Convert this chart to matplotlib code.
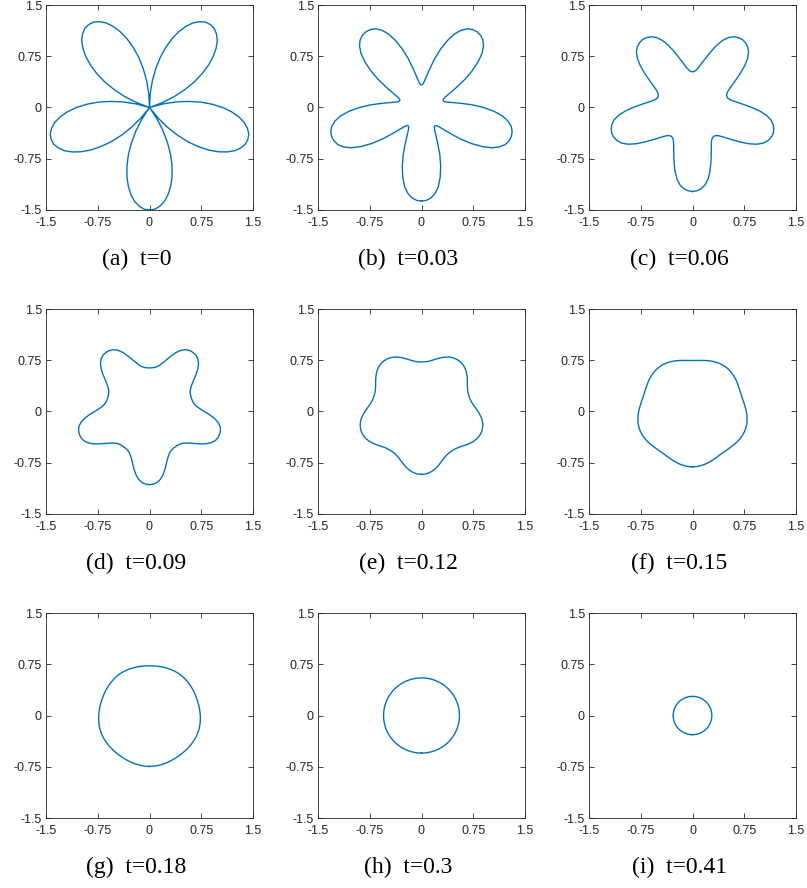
import numpy as np
import matplotlib
matplotlib.use("Agg")
import matplotlib.pyplot as plt

matplotlib.rcParams.update({"font.family": "Liberation Sans", "font.size": 9})

# half-petal radius profiles, read off the picture: angle measured from a petal axis
# (petal axes at 270 + 72k degrees), from the petal tip (0) to the notch (36)
phi = [0, 3, 6, 9, 12, 15, 18, 21, 24, 27, 30, 33, 36]
r_a = [1.50, 1.49, 1.45, 1.39, 1.30, 1.19, 1.06, 0.91, 0.75, 0.57, 0.39, 0.20, 0.0]
r_b = [1.37, 1.36, 1.33, 1.27, 1.18, 1.05, 0.90, 0.74, 0.58, 0.46, 0.38, 0.34, 0.33]
r_c = [1.23, 1.22, 1.195, 1.15, 1.075, 0.975, 0.86, 0.755, 0.67, 0.60, 0.555, 0.53, 0.522]
r_d = [1.07, 1.065, 1.045, 1.005, 0.945, 0.87, 0.795, 0.735, 0.69, 0.662, 0.647, 0.64, 0.638]
r_e = [0.92, 0.917, 0.908, 0.893, 0.872, 0.847, 0.82, 0.793, 0.768, 0.748, 0.734, 0.727, 0.725]
r_f = [0.81, 0.809, 0.806, 0.801, 0.795, 0.788, 0.78, 0.772, 0.764, 0.757, 0.752, 0.748, 0.747]
r_g = [0.745, 0.745, 0.744, 0.742, 0.740, 0.738, 0.736, 0.734, 0.732, 0.730, 0.729, 0.728, 0.728]
r_h = [0.55] * 13
r_i = [0.28] * 13

labels = ["(a)  t=0", "(b)  t=0.03", "(c)  t=0.06",
          "(d)  t=0.09", "(e)  t=0.12", "(f)  t=0.15",
          "(g)  t=0.18", "(h)  t=0.3", "(i)  t=0.41"]
profiles = [r_a, r_b, r_c, r_d, r_e, r_f, r_g, r_h, r_i]

ticks = [-1.5, -0.75, 0, 0.75, 1.5]
ticklabels = ["-1.5", "-0.75", "0", "0.75", "1.5"]


def closed_curve(prof):
    # walk round the full circle in 3 degree steps, starting at the bottom petal
    step = phi[1] - phi[0]
    xs, ys = [], []
    for k in range(0, 361, step):
        m = k % 72
        idx = min(m, 72 - m) // step
        th = np.deg2rad(270 + k)
        xs.append(prof[idx] * np.cos(th))
        ys.append(prof[idx] * np.sin(th))
    return xs, ys


W, H = 807, 888
fig = plt.figure(figsize=(W / 100, H / 100), dpi=100)
lefts = [46, 318, 589]
bottoms = [210, 514, 818]
aw, ah = 207, 205

for i, (prof, lab) in enumerate(zip(profiles, labels)):
    row, col = divmod(i, 3)
    ax = fig.add_axes([lefts[col] / W, 1 - bottoms[row] / H, aw / W, ah / H])
    xs, ys = closed_curve(prof)
    ax.plot(xs, ys, color="#0072BD", linewidth=1.0)
    ax.set_xlim(-1.5, 1.5)
    ax.set_ylim(-1.5, 1.5)
    ax.set_xticks(ticks)
    ax.set_xticklabels(ticklabels)
    ax.set_yticks(ticks)
    ax.set_yticklabels(ticklabels)
    ax.tick_params(direction="in", length=3.5, width=0.6, colors="#262626",
                   top=True, right=True, labelsize=9)
    ax.tick_params(axis="x", pad=5)
    ax.tick_params(axis="y", pad=3)
    for s in ax.spines.values():
        s.set_color("#262626")
        s.set_linewidth(0.6)
    ax.text(0.437, -0.24, lab, transform=ax.transAxes, ha="center", va="center",
            fontsize=17, family="Liberation Serif")

plt.savefig("out.png", dpi=100)
